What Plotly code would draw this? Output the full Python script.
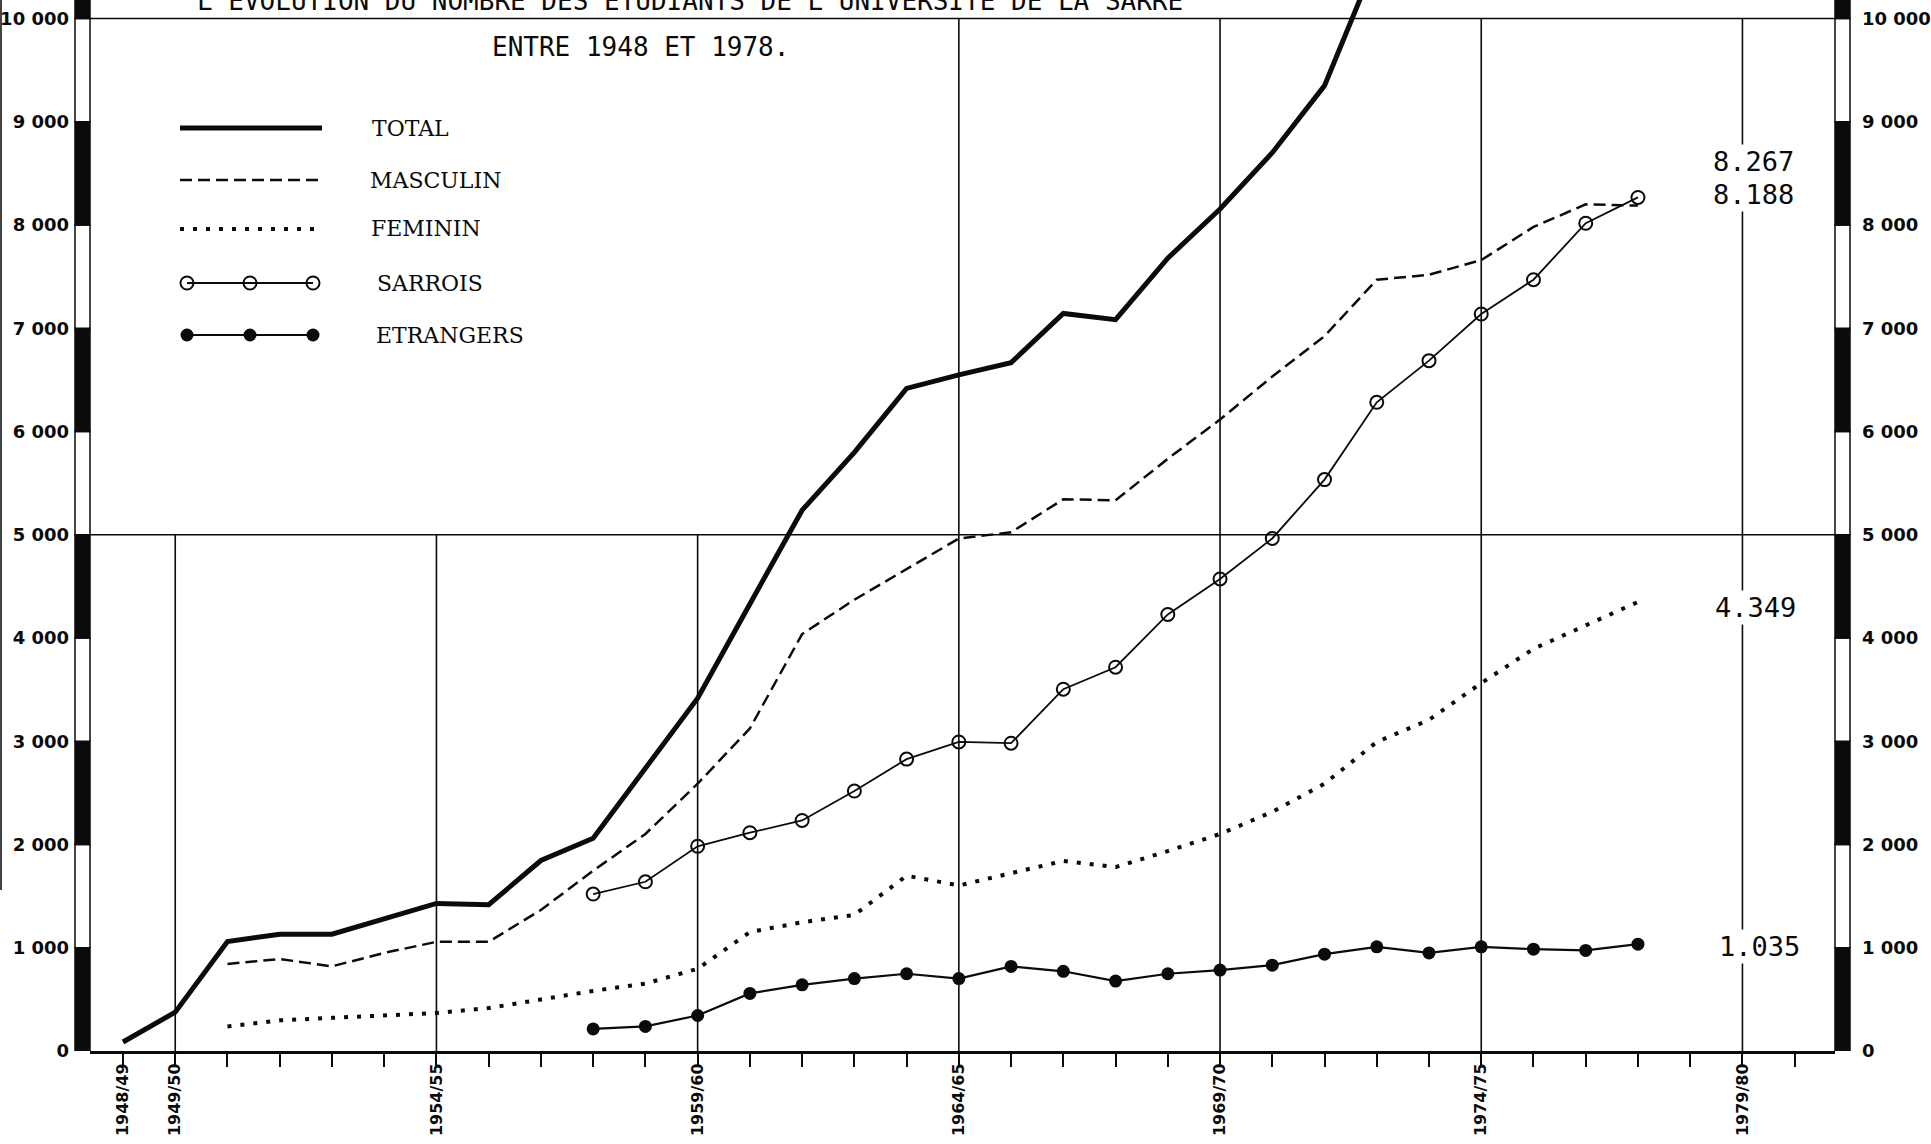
import plotly.graph_objects as go

# ---------------------------------------------------------------- data
# academic years are identified by their first calendar year (1948 -> 1948/49)
years_total = list(range(1948, 1978))
total = [87, 376, 1060, 1131, 1131, 1274, 1429, 1417, 1845, 2060,
         2738, 3417, 4330, 5238, 5798, 6417, 6548, 6667, 7143, 7083,
         7679, 8155, 8700, 9350, 10580, 10725, 11223, 11876, 12375, 12537]

years_sexe = list(range(1950, 1978))
masculin = [843, 891, 820, 950, 1057, 1057, 1366, 1746, 2102, 2589,
            3124, 4038, 4371, 4667, 4964, 5024, 5344, 5333, 5736, 6116,
            6532, 6924, 7470, 7518, 7660, 7981, 8200, 8188]
feminin = [238, 297, 321, 344, 368, 416, 499, 582, 653, 796,
           1152, 1247, 1318, 1698, 1603, 1722, 1841, 1781, 1936, 2102,
           2316, 2589, 2993, 3207, 3563, 3895, 4121, 4349]

years_origine = list(range(1957, 1978))
sarrois = [1520, 1639, 1983, 2114, 2233, 2518, 2827, 2993, 2981, 3504,
           3717, 4228, 4572, 4964, 5534, 6283, 6686, 7138, 7470, 8017, 8267]
etrangers = [214, 238, 344, 558, 641, 701, 748, 701, 819, 772,
             677, 748, 784, 831, 938, 1009, 950, 1009, 986, 974, 1035]

tick_years = [1948, 1949, 1954, 1959, 1964, 1969, 1974, 1979]
tick_labels = ["1948/49", "1949/50", "1954/55", "1959/60",
               "1964/65", "1969/70", "1974/75", "1979/80"]
y_ticks = list(range(0, 10001, 1000))
y_tick_labels = ["0", "1 000", "2 000", "3 000", "4 000", "5 000",
                 "6 000", "7 000", "8 000", "9 000", "10 000"]

title_lines = ["L'EVOLUTION DU NOMBRE DES ETUDIANTS DE L'UNIVERSITE DE LA SARRE",
               "ENTRE 1948 ET 1978."]
series_names = ["TOTAL", "MASCULIN", "FEMININ", "SARROIS", "ETRANGERS"]

# ---------------------------------------------------------------- page geometry
W, H = 1931, 1144
PLOT_L, PLOT_R, PLOT_T, PLOT_B = 90, 1835, 0, 1051
YEAR0, YEAR0_PX, PX_PER_YEAR = 1948, 123, 52.24
PX_PER_UNIT = 0.10325

x_range = [YEAR0 + (PLOT_L - YEAR0_PX) / PX_PER_YEAR,
           YEAR0 + (PLOT_R - YEAR0_PX) / PX_PER_YEAR]
y_top = (PLOT_B - PLOT_T) / PX_PER_UNIT
y_range = [0, y_top]


def px_x(px):
    """page pixel column -> x data value"""
    return YEAR0 + (px - YEAR0_PX) / PX_PER_YEAR


def px_y(py):
    """page pixel row -> y data value"""
    return (PLOT_B - py) / PX_PER_UNIT


def paper_x(px):
    return (px - PLOT_L) / (PLOT_R - PLOT_L)


def paper_y(py):
    return (PLOT_B - py) / (PLOT_B - PLOT_T)


INK = "#0b0b0b"

styles = {
    "TOTAL": dict(mode="lines", line=dict(color=INK, width=5)),
    "MASCULIN": dict(mode="lines", line=dict(color=INK, width=2.5, dash="12px,6px")),
    "FEMININ": dict(mode="lines", line=dict(color=INK, width=4, dash="4px,9px")),
    "SARROIS": dict(mode="lines+markers", line=dict(color=INK, width=1.8),
                    marker=dict(symbol="circle-open", size=13, color=INK,
                                line=dict(width=2, color=INK))),
    "ETRANGERS": dict(mode="lines+markers", line=dict(color=INK, width=2.2),
                      marker=dict(symbol="circle", size=13, color=INK)),
}

fig = go.Figure()

series = [("TOTAL", years_total, total),
          ("MASCULIN", years_sexe, masculin),
          ("FEMININ", years_sexe, feminin),
          ("SARROIS", years_origine, sarrois),
          ("ETRANGERS", years_origine, etrangers)]

for name, xs, ys in series:
    fig.add_trace(go.Scatter(x=xs, y=ys, name=name, showlegend=False,
                             hoverinfo="x+y+name", **styles[name]))

# hand-drawn key in the upper left corner
key_rows = {"TOTAL": 128, "MASCULIN": 180, "FEMININ": 229, "SARROIS": 283, "ETRANGERS": 335}
key_text_x = {"TOTAL": 370, "MASCULIN": 368, "FEMININ": 369, "SARROIS": 375, "ETRANGERS": 374}
for name in series_names:
    row = key_rows[name]
    if name in ("SARROIS", "ETRANGERS"):
        kx = [px_x(p) for p in (187, 250, 313)]
    else:
        kx = [px_x(180), px_x(322)]
    fig.add_trace(go.Scatter(x=kx, y=[px_y(row)] * len(kx), showlegend=False,
                             hoverinfo="skip", cliponaxis=False, **styles[name]))
    fig.add_annotation(x=paper_x(key_text_x[name]), y=paper_y(row), xref="paper", yref="paper",
                       text=name, showarrow=False, xanchor="left", yanchor="middle",
                       font=dict(family="DejaVu Serif", size=22, color=INK))

# invisible point so that the right-hand value axis is drawn
fig.add_trace(go.Scatter(x=[years_total[0]], y=[0], yaxis="y2", mode="markers",
                         marker=dict(opacity=0), showlegend=False, hoverinfo="skip"))

shapes = []
# vertical reference lines: short ones in the lower half, full ones to the top
for yr in tick_years[1:]:
    top = 5000 if yr < 1964 else 10000
    shapes.append(dict(type="line", xref="x", yref="y", x0=yr, x1=yr, y0=0, y1=top,
                       line=dict(color=INK, width=1.6), layer="below"))
for lvl in (5000, 10000):
    shapes.append(dict(type="line", xref="paper", yref="y", x0=0, x1=1, y0=lvl, y1=lvl,
                       line=dict(color=INK, width=1.6), layer="below"))

# banded scale bars on both sides (alternating black and white per thousand)
bounds = list(range(0, 10001, 1000)) + [y_top]
for anchor, (p0, p1) in ((0, (-15, 0)), (1, (0, 15))):
    for k in range(len(bounds) - 1):
        fill = INK if k % 2 == 0 else "white"
        shapes.append(dict(type="rect", xref="paper", yref="y", xsizemode="pixel",
                           xanchor=anchor, x0=p0, x1=p1, y0=bounds[k], y1=bounds[k + 1],
                           fillcolor=fill, line=dict(color=INK, width=1.5), layer="above"))

# edge of the sheet on the far left
shapes.append(dict(type="line", xref="paper", yref="paper",
                   x0=paper_x(1), x1=paper_x(1), y0=paper_y(0), y1=paper_y(890),
                   line=dict(color="#444", width=2)))

fig.update_layout(shapes=shapes)

# title, its first line running off the top of the sheet
fig.add_annotation(x=paper_x(195), y=paper_y(1), xref="paper", yref="paper",
                   text=title_lines[0], showarrow=False, xanchor="left", yanchor="middle",
                   font=dict(family="DejaVu Sans Mono", size=26, color=INK))
fig.add_annotation(x=paper_x(490), y=paper_y(47), xref="paper", yref="paper",
                   text=title_lines[1], showarrow=False, xanchor="left", yanchor="middle",
                   font=dict(family="DejaVu Sans Mono", size=26, color=INK))

# final values written beside the last academic year
end_values = [(sarrois[-1], 1753, 162), (masculin[-1], 1753, 194),
              (feminin[-1], 1755, 608), (etrangers[-1], 1759, 946)]
for val, cx, cy in end_values:
    fig.add_annotation(x=paper_x(cx), y=paper_y(cy), xref="paper", yref="paper",
                       text=f"{val / 1000:.3f}", showarrow=False,
                       xanchor="center", yanchor="middle", bgcolor="white", borderpad=1,
                       font=dict(family="DejaVu Sans Mono", size=27, color=INK))

axis_font = dict(family="DejaVu Sans", size=18, color=INK, weight="bold")

fig.update_layout(
    width=W, height=H, autosize=False,
    margin=dict(l=PLOT_L, r=W - PLOT_R, t=PLOT_T, b=H - PLOT_B, pad=0, autoexpand=False),
    paper_bgcolor="white", plot_bgcolor="white",
    xaxis=dict(range=x_range, showgrid=False, zeroline=False, automargin=False,
               showline=True, linecolor=INK, linewidth=3,
               tickmode="array", tickvals=tick_years, ticktext=tick_labels,
               tickangle=-90, ticks="outside", ticklen=13, tickwidth=2, tickcolor=INK,
               ticklabelstandoff=-10,
               tickfont=dict(family="DejaVu Sans", size=16, color=INK, weight="bold"),
               minor=dict(ticks="outside", tick0=1948, dtick=1, ticklen=13,
                          tickwidth=2, tickcolor=INK, showgrid=False)),
    yaxis=dict(range=y_range, showgrid=False, zeroline=False, showline=False,
               automargin=False,
               tickmode="array", tickvals=y_ticks, ticktext=y_tick_labels,
               ticks="", ticklabelstandoff=20, tickfont=axis_font),
    yaxis2=dict(range=y_range, overlaying="y", side="right", showgrid=False,
                zeroline=False, showline=False, automargin=False,
                tickmode="array", tickvals=y_ticks, ticktext=y_tick_labels,
                ticks="", ticklabelstandoff=26, tickfont=axis_font),
)

fig.write_html("out.html")
